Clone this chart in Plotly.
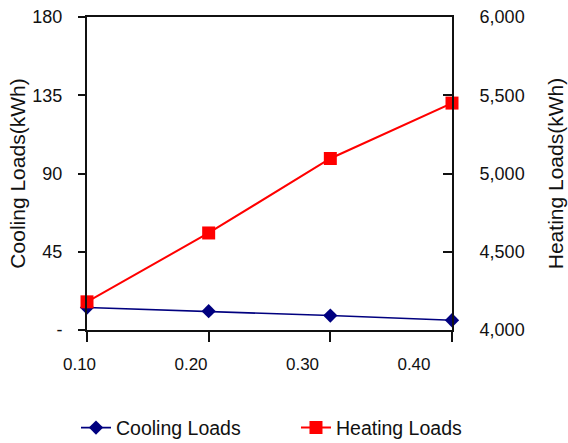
import plotly.graph_objects as go

# Data
x_vals = [0.10, 0.20, 0.30, 0.40]
x_labels = ["0.10", "0.20", "0.30", "0.40"]
cooling = [12.9, 10.8, 8.3, 5.6]
heating = [4180, 4620, 5096, 5450]
cool_ticks = [0, 45, 90, 135, 180]
cool_ticktext = ["-", "45", "90", "135", "180"]
heat_ticks = [4000, 4500, 5000, 5500, 6000]

FONT = "Liberation Sans, Arial, sans-serif"

fig = go.Figure()
fig.add_trace(go.Scatter(
    x=x_vals, y=cooling, name="Cooling Loads", mode="lines+markers",
    line=dict(color="#00007f", width=1.6),
    marker=dict(symbol="diamond", size=11, color="#00007f"),
    xaxis="x", yaxis="y", cliponaxis=False, legend="legend",
))
fig.add_trace(go.Scatter(
    x=x_vals, y=heating, name="Heating Loads", mode="lines+markers",
    line=dict(color="#ff0000", width=2),
    marker=dict(symbol="square", size=13, color="#ff0000"),
    xaxis="x", yaxis="y2", cliponaxis=False, legend="legend2",
))
# invisible carrier trace so the tick-label axis (x2) is drawn
fig.add_trace(go.Scatter(
    x=x_vals, y=cooling, mode="lines", line=dict(width=0), opacity=0,
    hoverinfo="skip", showlegend=False, xaxis="x2", yaxis="y",
))

axis_common = dict(showgrid=False, zeroline=False, showline=True,
                   linecolor="#111", linewidth=2, tickcolor="#111", tickwidth=2,
                   automargin=False)

legend_common = dict(orientation="h", xref="container", xanchor="left",
                     yref="container", y=0.034, yanchor="middle",
                     font=dict(size=19.5), bgcolor="rgba(0,0,0,0)")

fig.update_layout(
    width=568, height=443,
    margin=dict(l=70, r=116, t=17, b=113, pad=0),
    paper_bgcolor="white", plot_bgcolor="rgba(0,0,0,0)",
    font=dict(family=FONT, color="#111", size=17),
    xaxis=dict(domain=[0.0445, 1], range=[0.1, 0.4], tickvals=x_vals,
               showticklabels=False, ticks="outside", ticklen=10, mirror=True,
               **axis_common),
    xaxis2=dict(domain=[0.0249, 0.9005], range=[0.1, 0.4], anchor="y",
                tickvals=x_vals, ticktext=x_labels,
                showline=False, showgrid=False, zeroline=False, ticks="",
                ticklabelstandoff=22, tickfont=dict(size=17), automargin=False),
    yaxis=dict(range=[0, 180], tickvals=cool_ticks, ticktext=cool_ticktext,
               ticks="outside", ticklen=7, anchor="x",
               ticklabelstandoff=12, tickfont=dict(size=18),
               title=dict(text="Cooling Loads(kWh)", font=dict(size=21), standoff=1),
               **axis_common),
    yaxis2=dict(range=[4000, 6000], tickvals=heat_ticks, tickformat=",",
                overlaying="y", side="right", anchor="x",
                ticks="inside", ticklen=9, ticklabelstandoff=22,
                tickfont=dict(size=18),
                title=dict(text="Heating Loads(kWh)", font=dict(size=21), standoff=25),
                **axis_common),
    legend=dict(x=0.1338, **legend_common),
    legend2=dict(x=0.5211, **legend_common),
    showlegend=True,
)

fig.write_html("out.html")
